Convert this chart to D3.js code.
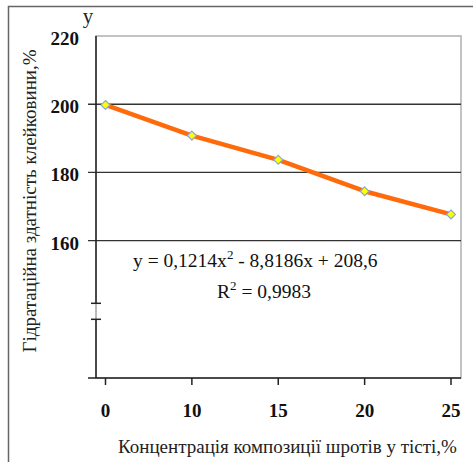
<!DOCTYPE html>
<html>
<head>
<meta charset="utf-8">
<script src="https://cdn.jsdelivr.net/npm/d3@7"></script>
<style>
  body { margin: 0; background: #fff; }
  text { font-family: "Liberation Serif", "Times New Roman", serif; }
</style>
</head>
<body>
<svg width="473" height="465"></svg>
<script>
// data
const categories = ["0", "10", "15", "20", "25"];
const values = [199.8, 190.8, 183.7, 174.5, 167.7];
const yTicks = [220, 200, 180, 160];
const gridValues = [200, 180, 160];
const xTitle = "Концентрація композиції шротів у тісті,%";
const yTitle = "Гідратаційна здатність клейковини,%";

const svg = d3.select("svg");

// plot box
const plot = { left: 96, top: 36, right: 461, bottom: 378 };

const x = d3.scalePoint()
  .domain(categories)
  .range([105.5, 451]);

// 220 at top, axis runs on below 160 (broken)
const y = d3.scaleLinear()
  .domain([160, 220])
  .range([240.7, plot.top]);

// outer frame (top and left only visible)
svg.append("path")
  .attr("d", "M8.5,462 V6.5 H473")
  .attr("fill", "none")
  .attr("stroke", "#666")
  .attr("stroke-width", 1.5);

// plot border
svg.append("rect")
  .attr("x", plot.left)
  .attr("y", plot.top)
  .attr("width", plot.right - plot.left)
  .attr("height", plot.bottom - plot.top)
  .attr("fill", "none")
  .attr("stroke", "#b0b0b0")
  .attr("stroke-width", 1.5);

// gridlines with outward ticks
svg.append("g")
  .selectAll("line")
  .data(gridValues)
  .join("line")
  .attr("x1", plot.left - 8)
  .attr("x2", plot.right)
  .attr("y1", d => y(d))
  .attr("y2", d => y(d))
  .attr("stroke", "#333")
  .attr("stroke-width", 1.3);

// y axis line, with a gap for the break
svg.append("line")
  .attr("x1", plot.left).attr("x2", plot.left)
  .attr("y1", plot.top).attr("y2", 303)
  .attr("stroke", "#222").attr("stroke-width", 1.5);
svg.append("line")
  .attr("x1", plot.left).attr("x2", plot.left)
  .attr("y1", 303).attr("y2", 319)
  .attr("stroke", "#999").attr("stroke-width", 1)
  .attr("stroke-dasharray", "1,1");
svg.append("line")
  .attr("x1", plot.left).attr("x2", plot.left)
  .attr("y1", 319).attr("y2", plot.bottom)
  .attr("stroke", "#222").attr("stroke-width", 1.5);

// axis break marks
svg.append("g")
  .selectAll("line")
  .data([303.3, 319.3])
  .join("line")
  .attr("x1", plot.left - 5).attr("x2", plot.left + 5)
  .attr("y1", d => d).attr("y2", d => d)
  .attr("stroke", "#222").attr("stroke-width", 1.5);

// y tick labels
svg.append("g")
  .selectAll("text")
  .data(yTicks)
  .join("text")
  .attr("x", 79)
  .attr("y", d => y(d) + 9)
  .attr("text-anchor", "end")
  .attr("font-size", 19)
  .attr("font-weight", "bold")
  .attr("fill", "#111")
  .text(d => d);

// x axis line and ticks
svg.append("line")
  .attr("x1", 88).attr("x2", plot.right)
  .attr("y1", plot.bottom).attr("y2", plot.bottom)
  .attr("stroke", "#222").attr("stroke-width", 1.5);

svg.append("g")
  .selectAll("line")
  .data(categories)
  .join("line")
  .attr("x1", d => x(d)).attr("x2", d => x(d))
  .attr("y1", plot.bottom).attr("y2", plot.bottom + 7)
  .attr("stroke", "#222").attr("stroke-width", 1.5);

svg.append("g")
  .selectAll("text")
  .data(categories)
  .join("text")
  .attr("x", d => x(d))
  .attr("y", 417)
  .attr("text-anchor", "middle")
  .attr("font-size", 19)
  .attr("font-weight", "bold")
  .attr("fill", "#111")
  .text(d => d);

// axis titles
svg.append("text")
  .attr("x", 118)
  .attr("y", 453)
  .attr("font-size", 19)
  .attr("fill", "#222")
  .text(xTitle);

svg.append("text")
  .attr("transform", "translate(36,201) rotate(-90)")
  .attr("text-anchor", "middle")
  .attr("font-size", 19)
  .attr("fill", "#222")
  .text(yTitle);

svg.append("text")
  .attr("x", 88)
  .attr("y", 23)
  .attr("text-anchor", "middle")
  .attr("font-size", 21)
  .attr("fill", "#222")
  .text("y");

// series line
const line = d3.line()
  .x((d, i) => x(categories[i]))
  .y(d => y(d));

svg.append("path")
  .datum(values)
  .attr("d", line)
  .attr("fill", "none")
  .attr("stroke", "#ff6a0a")
  .attr("stroke-width", 4.5)
  .attr("stroke-linejoin", "round");

// diamond markers
svg.append("g")
  .selectAll("path")
  .data(values)
  .join("path")
  .attr("transform", (d, i) => `translate(${x(categories[i])},${y(d)})`)
  .attr("d", d3.symbol(d3.symbolDiamond2, 50))
  .attr("fill", "#ffff00")
  .attr("stroke", "#8aa6dc")
  .attr("stroke-width", 1.2);

// trendline equation
const eq = svg.append("text")
  .attr("x", 133)
  .attr("y", 267)
  .attr("font-size", 19.5)
  .attr("fill", "#111");
eq.append("tspan").text("y = 0,1214x");
eq.append("tspan").attr("dy", -8).attr("font-size", 13).text("2");
eq.append("tspan").attr("dy", 8).text(" - 8,8186x + 208,6");

const r2 = svg.append("text")
  .attr("x", 217)
  .attr("y", 298)
  .attr("font-size", 19.5)
  .attr("fill", "#111");
r2.append("tspan").text("R");
r2.append("tspan").attr("dy", -8).attr("font-size", 13).text("2");
r2.append("tspan").attr("dy", 8).text(" = 0,9983");
</script>
</body>
</html>
